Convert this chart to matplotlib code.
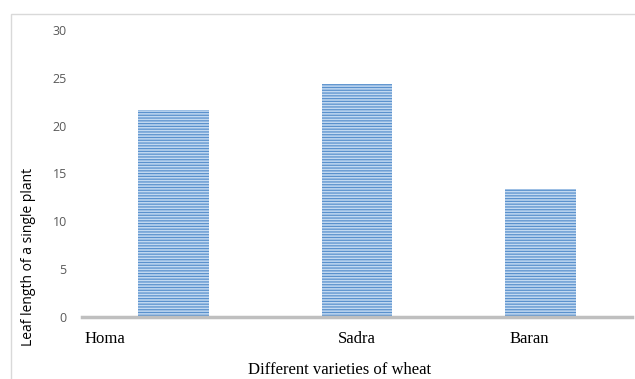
import matplotlib
matplotlib.use("Agg")
import matplotlib.pyplot as plt
from matplotlib.patches import Rectangle

varieties = ["Homa", "Sadra", "Baran"]
leaf_length = [21.6, 24.4, 13.4]
y_ticks = [0, 5, 10, 15, 20, 25, 30]

plt.rcParams["hatch.linewidth"] = 0.9

fig = plt.figure(figsize=(6.35, 3.79), dpi=100)
ax = fig.add_axes([82 / 635, 1 - 317 / 379, 550 / 635, 287 / 379])

x = range(len(varieties))
ax.bar(x, leaf_length, width=0.385, color="#c2d9f1", edgecolor="#5a91cd",
       linewidth=0, hatch="------", zorder=2)

ax.set_xlim(-0.5, 2.5)
ax.set_ylim(0, 30)
ax.set_yticks(y_ticks)
ax.set_yticklabels([str(t) for t in y_ticks], fontsize=9, color="#595959",
                   family="Open Sans")
ax.tick_params(axis="y", length=0, pad=11)

# category labels sit a bit off the bar centres
ax.set_xticks([-0.375, 1.0, 1.94])
ax.set_xticklabels(varieties, fontsize=12, family="Liberation Serif")
ax.tick_params(axis="x", length=0, pad=10)

for side in ["left", "right", "top"]:
    ax.spines[side].set_visible(False)
ax.spines["bottom"].set_color("#bfbfbf")
ax.spines["bottom"].set_linewidth(2.5)

fig.text(340 / 635, 1 - 370 / 379, "Different varieties of wheat",
         ha="center", va="center", fontsize=12, family="Liberation Serif")
fig.text(29 / 635, 1 - 257 / 379, "Leaf length of a single plant",
         ha="center", va="center", rotation=90, fontsize=10, family="Open Sans")

# chart frame
fig.patches.append(Rectangle((11 / 635, -0.1), 1.2, 1 - 14 / 379 + 0.1,
                             transform=fig.transFigure, fill=False,
                             edgecolor="#d9d9d9", linewidth=1))

fig.savefig("out.png", dpi=100)
